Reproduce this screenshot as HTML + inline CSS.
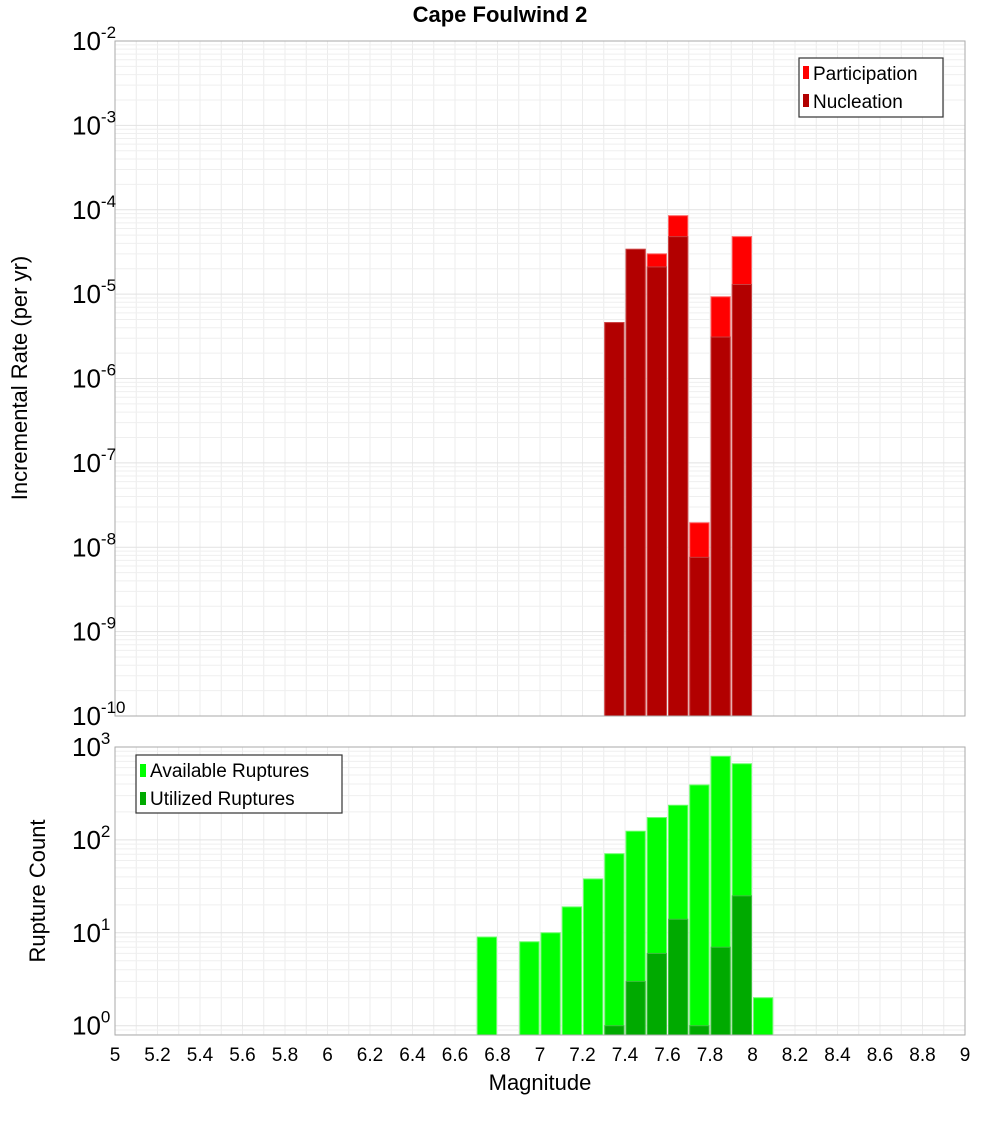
<!DOCTYPE html>
<html><head><meta charset="utf-8"><style>
body{margin:0;background:#fff;}
svg{font-family:"Liberation Sans","DejaVu Sans",sans-serif;}
</style></head><body>
<svg id="c" width="1000" height="1100" xmlns="http://www.w3.org/2000/svg"></svg>
<script>
const mags=[6.75,6.85,6.95,7.05,7.15,7.25,7.35,7.45,7.55,7.65,7.75,7.85,7.95,8.05];
const participation=[0,0,0,0,0,0,4.6e-6,3.4e-5,3.0e-5,8.5e-5,1.95e-8,9.3e-6,4.8e-5,0];
const nucleation=[0,0,0,0,0,0,4.6e-6,3.4e-5,2.1e-5,4.8e-5,7.6e-9,3.1e-6,1.3e-5,0];
const available=[9,0,8,10,19,38,71,124,174,236,390,794,660,2];
const utilized=[0,0,0,0,0,0,1,3,6,14,1,7,25,0];
const xTicks=[5,5.2,5.4,5.6,5.8,6,6.2,6.4,6.6,6.8,7,7.2,7.4,7.6,7.8,8,8.2,8.4,8.6,8.8,9];
const topExps=[-2,-3,-4,-5,-6,-7,-8,-9,-10];
const botExps=[0,1,2,3];

const NS="http://www.w3.org/2000/svg";
const svg=document.getElementById('c');
function mk(t,a,p){const e=document.createElementNS(NS,t);for(const k in a)e.setAttribute(k,a[k]);(p||svg).appendChild(e);return e;}
const X0=115,X1=965;
const x=m=>X0+(m-5)/4*(X1-X0);
const T0=41,T1=716;
const yT=v=>T0+(-2-Math.log10(v))/8*(T1-T0);
const B0=747,B1=1035;
const yB=v=>B0+(3-Math.log10(v))/3.1*(B1-B0);

function grid(top,bot,yf,decLo,decHi,name){
  const g=mk('g',{});
  
  
  for(let m=5;m<=9.001;m+=0.1){mk('line',{x1:x(m),x2:x(m),y1:top,y2:bot,stroke:'#ececec','stroke-width':1},g);}
  for(let d=decLo;d<decHi;d++){for(let k=1;k<10;k++){const yy=yf(k*Math.pow(10,d));if(yy>=top&&yy<=bot)mk('line',{x1:X0,x2:X1,y1:yy,y2:yy,stroke:k==1?'#e2e2e2':'#efefef','stroke-width':1},g);}}
}
grid(T0,T1,yT,-10,-1,'top-grid');
grid(B0,B1,yB,-1,4,'bottom-grid');

const bw=(X1-X0)/40;
function bar(m,v,yf,base,fill,stroke,name){
  if(v<=0)return;
  const y=yf(v);
  const r=mk('rect',{x:x(m)-bw/2+1,y:y,width:bw-2,height:base-y,fill:fill,stroke:stroke,'stroke-width':1});
  
  
}
mags.forEach((m,i)=>{bar(m,participation[i],yT,T1,'#ff0000','#ff6060','participation-bar');});
mags.forEach((m,i)=>{bar(m,nucleation[i],yT,T1,'#b20000','#c84040','nucleation-bar');});
mags.forEach((m,i)=>{bar(m,available[i],yB,B1,'#00ff00','#66ff66','available-bar');});
mags.forEach((m,i)=>{bar(m,utilized[i],yB,B1,'#00aa00','#40c040','utilized-bar');});

mk('rect',{x:X0,y:T0,width:X1-X0,height:T1-T0,fill:'none',stroke:'#aaa','stroke-width':1,});
mk('rect',{x:X0,y:B0,width:X1-X0,height:B1-B0,fill:'none',stroke:'#aaa','stroke-width':1,});

topExps.forEach(e=>{
  const t=mk('text',{x:72,y:yT(Math.pow(10,e))+9,'font-size':26});
  
  
  t.innerHTML='10<tspan dy="-12" font-size="17">'+e+'</tspan>';
});
botExps.forEach(e=>{
  const t=mk('text',{x:72,y:yB(Math.pow(10,e))+9,'font-size':26});
  
  
  t.innerHTML='10<tspan dy="-12" font-size="17">'+e+'</tspan>';
});
xTicks.forEach(v=>{
  const t=mk('text',{x:x(v),y:1061,'font-size':19,'text-anchor':'middle'});
  
  
  t.textContent=String(v);
});
</script>
<svg width="0" height="0"></svg>
<div style="position:absolute;left:0;top:0;width:1000px;height:1100px;pointer-events:none">
<svg width="1000" height="1100" xmlns="http://www.w3.org/2000/svg" style="font-family:'Liberation Sans','DejaVu Sans',sans-serif">
<text x="500" y="22" font-size="22" font-weight="bold" text-anchor="middle">Cape Foulwind 2</text>
<text x="540" y="1090" font-size="22" text-anchor="middle">Magnitude</text>
<text transform="translate(27,378) rotate(-90)" font-size="22" text-anchor="middle">Incremental Rate (per yr)</text>
<text transform="translate(45,891) rotate(-90)" font-size="22" text-anchor="middle">Rupture Count</text>
<g>
<rect x="799" y="58" width="144" height="59" fill="#fff" stroke="#333" stroke-width="1.2"/>
<rect x="803" y="66" width="6" height="13" fill="#ff0000"/>
<text x="813" y="80" font-size="19">Participation</text>
<rect x="803" y="94" width="6" height="13" fill="#b20000"/>
<text x="813" y="108" font-size="19">Nucleation</text>
</g>
<g>
<rect x="136" y="755" width="206" height="58" fill="#fff" stroke="#333" stroke-width="1.2"/>
<rect x="140" y="764" width="6" height="13" fill="#00ff00"/>
<text x="150" y="777" font-size="19">Available Ruptures</text>
<rect x="140" y="792" width="6" height="13" fill="#00aa00"/>
<text x="150" y="805" font-size="19">Utilized Ruptures</text>
</g>
</svg></div>
</body></html>
